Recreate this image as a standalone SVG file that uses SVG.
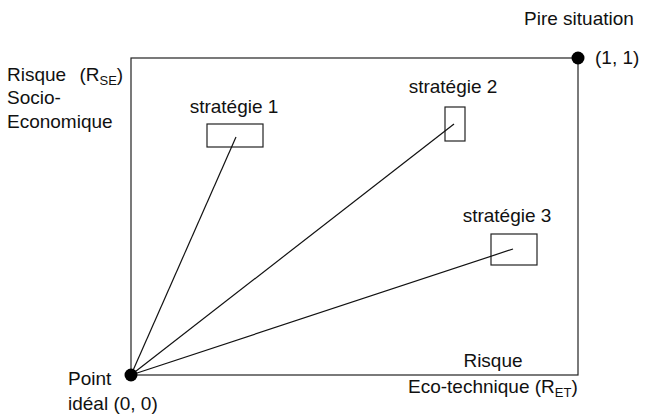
<svg xmlns="http://www.w3.org/2000/svg" width="647" height="415" viewBox="0 0 647 415">
<style>
text{font-family:"Liberation Sans",Arial,sans-serif;font-size:19px;fill:#111}
.sub{font-size:13px}
.frame{fill:none;stroke:#222;stroke-width:1.2}
.box{fill:#fff;stroke:#222;stroke-width:1.2}
.conn line{stroke:#111;stroke-width:1.2}
</style>
<rect fill="#fff" width="647" height="415"/>
<g id="frame">
<rect class="frame" x="131" y="58" width="447" height="317"/>
</g>
<g id="s1"><rect class="box" x="207" y="124" width="56" height="23"/><text x="234" y="113" text-anchor="middle">stratégie 1</text></g>
<g id="s2"><rect class="box" x="445" y="107" width="20" height="34"/><text x="453" y="93" text-anchor="middle">stratégie 2</text></g>
<g id="s3"><rect class="box" x="491" y="234" width="46" height="31"/><text x="507" y="222" text-anchor="middle">stratégie 3</text></g>
<g class="conn" id="connectors">
<line x1="131" y1="375" x2="236" y2="137"/>
<line x1="131" y1="375" x2="454" y2="124"/>
<line x1="131" y1="375" x2="513" y2="249"/>
</g>
<g id="ideal"><circle cx="131" cy="375" r="6.5" fill="#000"/><text x="68" y="385">Point</text><text x="68" y="410">idéal (0, 0)</text></g>
<g id="worst"><circle cx="578" cy="58" r="6.5" fill="#000"/><text x="524" y="25">Pire situation</text><text x="595" y="64">(1, 1)</text></g>
<g id="yaxis"><text x="7" y="81">Risque <tspan dx="8">(R</tspan><tspan class="sub" dy="4">SE</tspan><tspan dy="-4">)</tspan></text><text x="7" y="104">Socio-</text><text x="7" y="128">Economique</text></g>
<g id="xaxis"><text x="493" y="367" text-anchor="middle">Risque</text><text x="408" y="393">Eco-technique (R<tspan class="sub" dy="4">ET</tspan><tspan dy="-4">)</tspan></text></g>
</svg>
